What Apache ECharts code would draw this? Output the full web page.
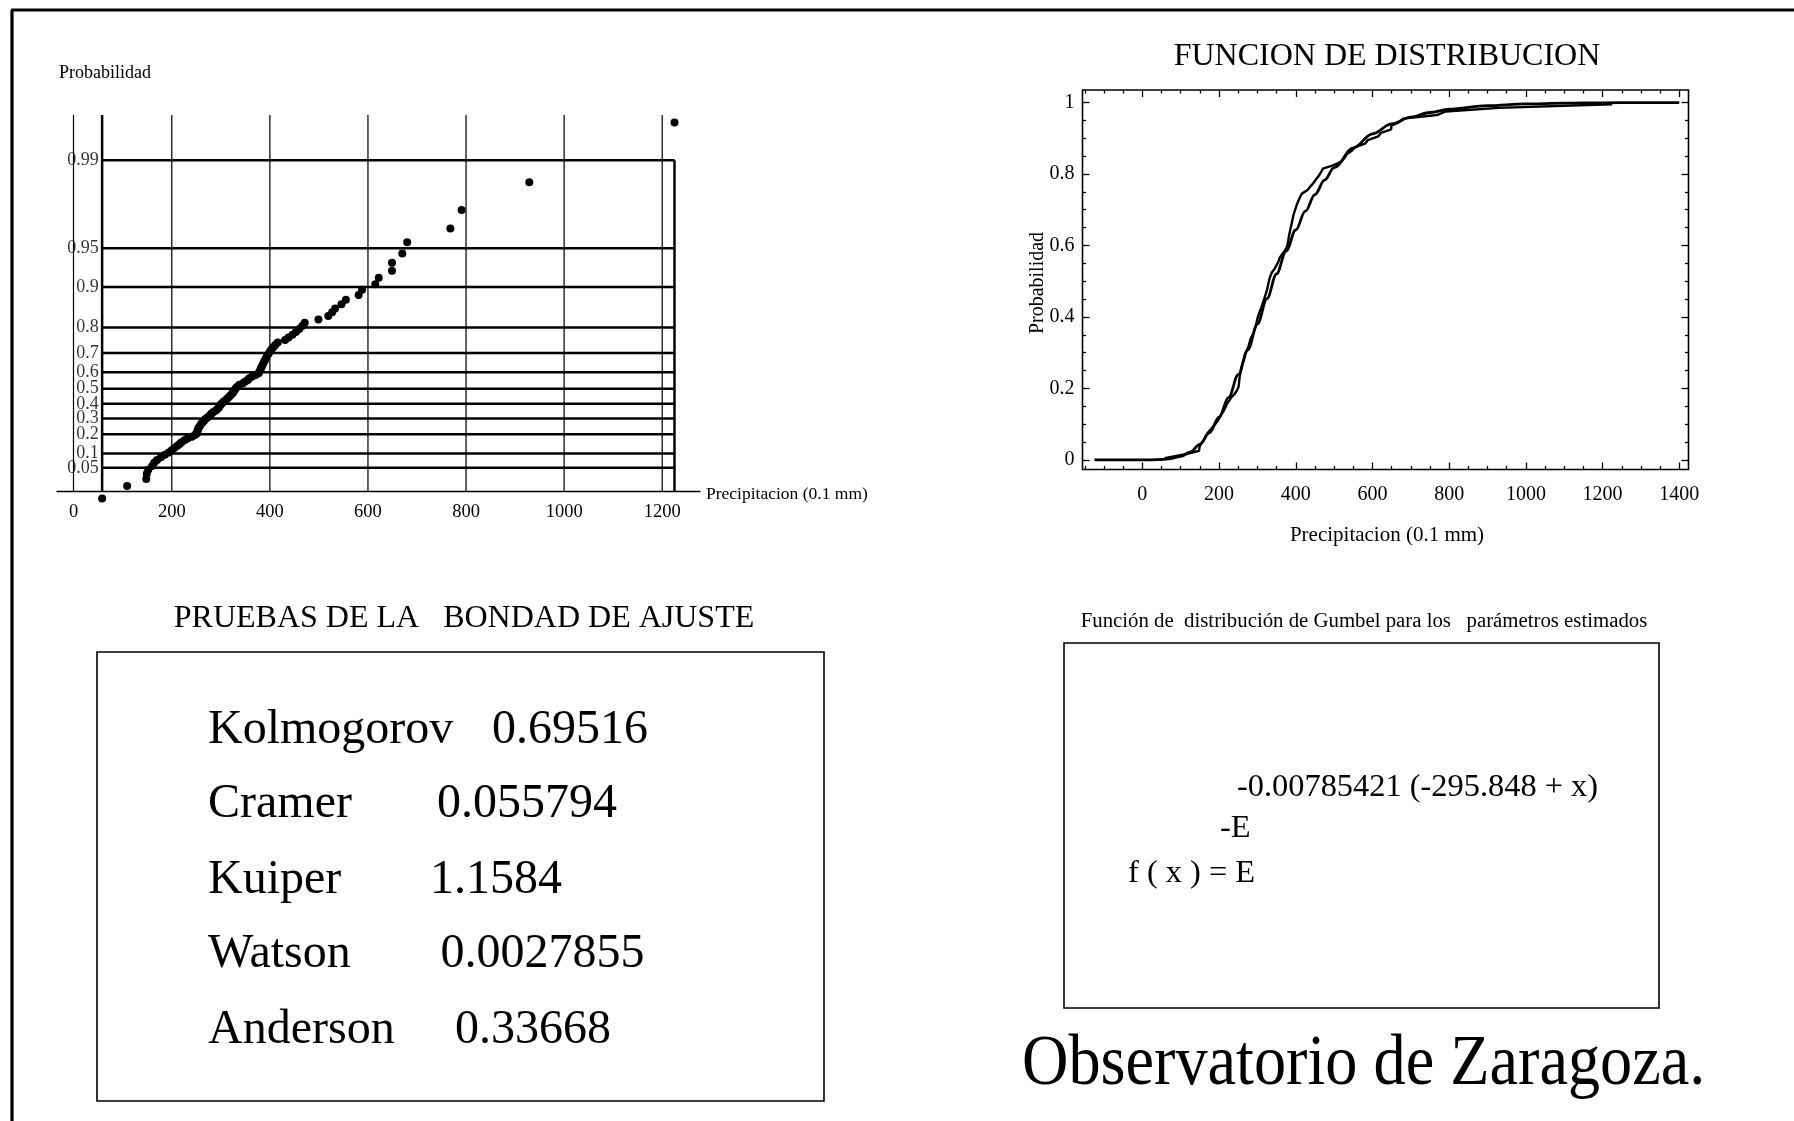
<!DOCTYPE html>
<html>
<head>
<meta charset="utf-8">
<script src="https://cdn.jsdelivr.net/npm/echarts@6/dist/echarts.min.js"></script>
<style>
html,body{margin:0;padding:0;background:#ffffff;}
#chart{width:1794px;height:1121px;}
</style>
</head>
<body>
<div id="chart"></div>
<script>
// ---------------- DATA ----------------
// sorted annual precipitation values (0.1 mm)
const precip = [
  58, 109, 148, 149, 152, 160, 164, 170, 178, 186,
  194, 200, 205, 211, 216, 220, 226, 232, 241, 247,
  251, 252, 253, 254, 256, 258, 260, 263, 266, 268,
  272, 276, 279, 281, 285, 290, 293, 296, 298, 300,
  303, 306, 310, 313, 316, 319, 322, 325, 327, 329,
  331, 334, 338, 345, 350, 355, 358, 364, 371, 377,
  379, 381, 382, 384, 386, 388, 390, 392, 394, 397,
  400, 403, 407, 411, 416, 431, 438, 446, 453, 460,
  466, 471, 499, 519, 527, 533, 546, 555, 581, 588,
  615, 622, 649, 649, 670, 680, 768, 791, 929, 1225
];
// plotting-position probabilities of the points
const probs = [
  0.005, 0.015, 0.025, 0.035, 0.045, 0.055, 0.065, 0.075, 0.085, 0.095,
  0.105, 0.115, 0.125, 0.135, 0.145, 0.155, 0.165, 0.175, 0.185, 0.195,
  0.205, 0.215, 0.225, 0.235, 0.245, 0.255, 0.265, 0.275, 0.285, 0.295,
  0.305, 0.315, 0.325, 0.335, 0.345, 0.355, 0.365, 0.375, 0.385, 0.395,
  0.405, 0.415, 0.425, 0.435, 0.445, 0.455, 0.465, 0.475, 0.485, 0.495,
  0.505, 0.515, 0.525, 0.535, 0.545, 0.555, 0.565, 0.575, 0.585, 0.595,
  0.605, 0.615, 0.625, 0.635, 0.645, 0.655, 0.665, 0.675, 0.685, 0.695,
  0.705, 0.715, 0.725, 0.735, 0.745, 0.755, 0.765, 0.775, 0.785, 0.795,
  0.805, 0.815, 0.825, 0.835, 0.845, 0.855, 0.865, 0.875, 0.885, 0.895,
  0.905, 0.915, 0.925, 0.935, 0.945, 0.955, 0.965, 0.975, 0.985, 0.995
];
// probability-paper levels and their labels
const probTicks = [0.05, 0.1, 0.2, 0.3, 0.4, 0.5, 0.6, 0.7, 0.8, 0.9, 0.95, 0.99];
const probTickLabels = ['0.05', '0.1', '0.2', '0.3', '0.4', '0.5', '0.6', '0.7', '0.8', '0.9', '0.95', '0.99'];
const leftXTicks = [0, 200, 400, 600, 800, 1000, 1200];
// fitted Gumbel distribution function
const gumbelX = [-125, -50, 0, 25, 50, 75, 100, 125, 150, 175, 200, 225, 250, 275, 300, 325, 350, 375, 400, 425, 450, 475, 500, 550, 600, 650, 700, 750, 800, 900, 1000, 1100, 1200, 1300, 1400];
const gumbelF = [0, 0, 0.0000, 0.0002, 0.001, 0.0035, 0.0095, 0.0218, 0.0431, 0.0756, 0.1197, 0.1748, 0.2385, 0.3079, 0.3799, 0.4514, 0.5202, 0.5845, 0.6432, 0.6959, 0.7423, 0.7828, 0.8177, 0.8729, 0.9124, 0.9400, 0.9591, 0.9721, 0.9811, 0.9913, 0.9960, 0.9982, 0.9992, 0.9996, 0.9998];
const cdfXTicks = [0, 200, 400, 600, 800, 1000, 1200, 1400];
const cdfYTicks = [0, 0.2, 0.4, 0.6, 0.8, 1];
// goodness-of-fit tests
const testNames = ['Kolmogorov', 'Cramer', 'Kuiper', 'Watson', 'Anderson'];
const testValues = ['0.69516', '0.055794', '1.1584', '0.0027855', '0.33668'];

// ---------------- CHART ----------------
const FONT = "'Liberation Serif', 'Times New Roman', serif";
const BLACK = '#000000';
const gum = p => -Math.log(-Math.log(p));      // Gumbel probability-paper scale
const rAxis = gum(0.01);
const rTop = 5.437;
const xMinData = precip[0];
const xMaxData = precip[precip.length - 1];
const plain = v => String(v);

const chart = echarts.init(document.getElementById('chart'), null, {renderer: 'canvas'});

function seg(points, width, color) {
  return {
    type: 'line', xAxisIndex: 0, yAxisIndex: 0, data: points, symbol: 'none',
    lineStyle: {color: color || BLACK, width: width}, silent: true, animation: false, z: 2
  };
}

const series = [];
leftXTicks.filter(v => v > 0).forEach(v => series.push(seg([[v, rAxis], [v, rTop]], 1.3, '#111111')));
series.push(seg([[xMinData, rAxis], [xMinData, rTop]], 2.5));
series.push(seg([[xMaxData, rAxis], [xMaxData, gum(0.99)]], 2.5));
probTicks.forEach(p => series.push(seg([[xMinData, gum(p)], [xMaxData, gum(p)]], 2.5)));
series.push({
  type: 'scatter', xAxisIndex: 0, yAxisIndex: 0,
  data: precip.map((x, i) => [x, gum(probs[i])]),
  symbol: 'circle', symbolSize: 8, itemStyle: {color: BLACK, opacity: 1}, clip: false, z: 5, animation: false
});
// probability-paper tick labels, placed on the y axis (x = 0) at each level
series.push({
  type: 'scatter', xAxisIndex: 0, yAxisIndex: 0,
  data: probTicks.map((p, i) => ({value: [0, gum(p)], name: probTickLabels[i]})),
  symbolSize: 0, silent: true, animation: false, z: 6,
  label: {show: true, position: [25, 0], align: 'right', verticalAlign: 'middle',
    formatter: d => d.name, fontSize: 18, fontFamily: FONT, color: BLACK},
  labelLayout: {hideOverlap: false}
});
// right chart
series.push({
  type: 'line', xAxisIndex: 1, yAxisIndex: 1,
  data: gumbelX.map((x, i) => [x, gumbelF[i]]),
  smooth: 0.35, smoothMonotone: 'x', symbol: 'none',
  lineStyle: {color: BLACK, width: 2.8}, animation: false, z: 3
});
series.push({
  type: 'line', xAxisIndex: 1, yAxisIndex: 1,
  data: precip.map((x, i) => [x, probs[i]]),
  symbol: 'none', lineStyle: {color: BLACK, width: 2.4}, animation: false, z: 4
});

const minorX = [];
for (let v = -150; v <= 1420; v += 50) { if (v % 200 !== 0) minorX.push(v); }
const minorY = [];
for (let k = 0; k <= 20; k++) { if (k % 4 !== 0) minorY.push(k / 20); }

const tickLine = {color: BLACK, width: 1.3};
function rx(position, ticks, len, withLabels) {
  return {
    gridIndex: 1, type: 'value', min: -156, max: 1424, position: position,
    axisLine: {show: false, onZero: false},
    axisTick: {show: true, inside: true, length: len, customValues: ticks, lineStyle: tickLine},
    axisLabel: withLabels ? {show: true, customValues: ticks, formatter: plain, showMinLabel: true, showMaxLabel: true,
      fontSize: 20, fontFamily: FONT, color: BLACK, margin: 15} : {show: false},
    splitLine: {show: false}
  };
}
function ry(position, ticks, len, withLabels) {
  return {
    gridIndex: 1, type: 'value', min: -0.027, max: 1.035, position: position,
    axisLine: {show: false, onZero: false},
    axisTick: {show: true, inside: true, length: len, customValues: ticks, lineStyle: tickLine},
    axisLabel: withLabels ? {show: true, customValues: ticks, fontSize: 20, fontFamily: FONT, color: BLACK, margin: 8,
      showMinLabel: true, showMaxLabel: true,
      formatter: v => (Math.abs(v) < 1e-9 ? '0' : Math.abs(v - 1) < 1e-9 ? '1' : String(Math.round(v * 10) / 10))} : {show: false},
    splitLine: {show: false}
  };
}

const option = {
  backgroundColor: '#ffffff',
  animation: false,
  grid: [
    {left: 57, top: 115, width: 643, height: 376, show: false},
    {left: 1082.5, top: 90, width: 606, height: 379.5, show: true, borderColor: BLACK, borderWidth: 1.6, backgroundColor: 'transparent'}
  ],
  xAxis: [
    {
      gridIndex: 0, type: 'value', min: -34, max: 1277,
      axisLine: {show: true, onZero: false, lineStyle: {color: BLACK, width: 1.3}},
      axisTick: {show: false}, splitLine: {show: false},
      axisLabel: {customValues: leftXTicks, formatter: plain, showMinLabel: true, showMaxLabel: true,
        fontSize: 18.5, fontFamily: FONT, color: BLACK, margin: 12}
    },
    rx('bottom', cdfXTicks, 7, true),
    rx('bottom', minorX, 3.5, false),
    rx('top', cdfXTicks, 7, false),
    rx('top', minorX, 3.5, false)
  ],
  yAxis: [
    {
      gridIndex: 0, type: 'value', min: rAxis, max: rTop,
      axisLine: {show: true, onZero: true, lineStyle: {color: BLACK, width: 1.2}},
      axisTick: {show: false}, splitLine: {show: false},
      axisLabel: {show: false}
    },
    ry('left', cdfYTicks, 7, true),
    ry('left', minorY, 3.5, false),
    ry('right', cdfYTicks, 7, false),
    ry('right', minorY, 3.5, false)
  ],
  series: series,
  graphic: {
    elements: [
      // outer frame
      {type: 'line', shape: {x1: 12, y1: 10, x2: 12, y2: 1121}, style: {stroke: BLACK, lineWidth: 3.2}},
      {type: 'line', shape: {x1: 11, y1: 10, x2: 1794, y2: 10}, style: {stroke: BLACK, lineWidth: 3.2}},
      // left chart labels
      {type: 'text', x: 59, y: 73, style: {text: 'Probabilidad', fontSize: 18, fontFamily: FONT, fill: BLACK, align: 'left', verticalAlign: 'middle'}},
      {type: 'text', x: 706, y: 494, style: {text: 'Precipitacion (0.1 mm)', fontSize: 17.5, fontFamily: FONT, fill: BLACK, align: 'left', verticalAlign: 'middle'}},
      // right chart texts
      {type: 'text', x: 1387, y: 57, style: {text: 'FUNCION DE DISTRIBUCION', fontSize: 32, fontFamily: FONT, fill: BLACK, align: 'center', verticalAlign: 'middle'}},
      {type: 'text', x: 1038, y: 283, rotation: Math.PI / 2, style: {text: 'Probabilidad', fontSize: 20, fontFamily: FONT, fill: BLACK, align: 'center', verticalAlign: 'middle'}},
      {type: 'text', x: 1387, y: 535, style: {text: 'Precipitacion (0.1 mm)', fontSize: 21, fontFamily: FONT, fill: BLACK, align: 'center', verticalAlign: 'middle'}},
      // goodness of fit
      {type: 'text', x: 464, y: 619, style: {text: 'PRUEBAS DE LA   BONDAD DE AJUSTE', fontSize: 32, fontFamily: FONT, fill: BLACK, align: 'center', verticalAlign: 'middle'}},
      {type: 'rect', shape: {x: 97, y: 652, width: 727, height: 449}, style: {fill: 'none', stroke: BLACK, lineWidth: 1.6}},
      // Gumbel formula
      {type: 'text', x: 1364, y: 622, style: {text: 'Función de  distribución de Gumbel para los   parámetros estimados', fontSize: 20.8, fontFamily: FONT, fill: BLACK, align: 'center', verticalAlign: 'middle'}},
      {type: 'rect', shape: {x: 1064, y: 643, width: 595, height: 365}, style: {fill: 'none', stroke: BLACK, lineWidth: 1.6}},
      {type: 'text', x: 1237, y: 787, style: {text: '-0.00785421 (-295.848 + x)', fontSize: 32.4, fontFamily: FONT, fill: BLACK, align: 'left', verticalAlign: 'middle'}},
      {type: 'text', x: 1220, y: 828, style: {text: '-E', fontSize: 32.4, fontFamily: FONT, fill: BLACK, align: 'left', verticalAlign: 'middle'}},
      {type: 'text', x: 1128, y: 873, style: {text: 'f ( x ) = E', fontSize: 32.4, fontFamily: FONT, fill: BLACK, align: 'left', verticalAlign: 'middle'}},
      {type: 'text', x: 1022, y: 1065, scaleX: 0.905, style: {text: 'Observatorio de Zaragoza.', fontSize: 71, fontFamily: FONT, fill: BLACK, align: 'left', verticalAlign: 'middle'}}
    ]
  }
};

// goodness-of-fit table rows
const rowY = [730.5, 804.5, 880, 954.5, 1030];
const valueX = [492, 437, 430, 440.5, 455];
testNames.forEach((name, i) => {
  option.graphic.elements.push({type: 'text', x: 208, y: rowY[i], style: {text: name, fontSize: 48, fontFamily: FONT, fill: BLACK, align: 'left', verticalAlign: 'middle'}});
  option.graphic.elements.push({type: 'text', x: valueX[i], y: rowY[i], style: {text: testValues[i], fontSize: 48, fontFamily: FONT, fill: BLACK, align: 'left', verticalAlign: 'middle'}});
});

chart.setOption(option);
</script>
</body>
</html>
